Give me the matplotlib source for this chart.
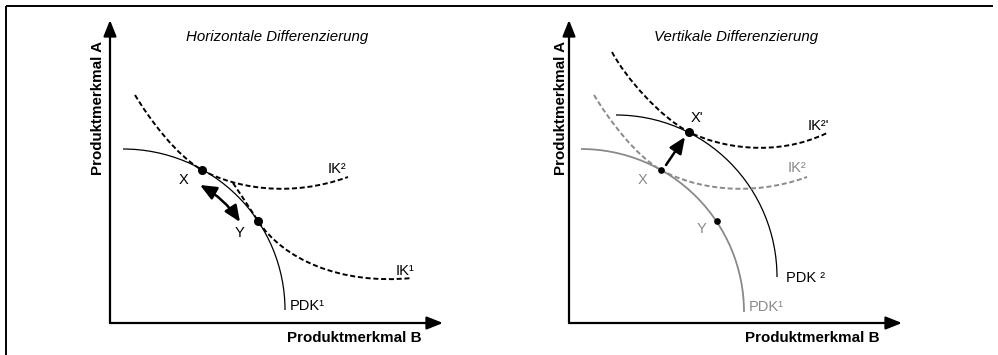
import matplotlib.pyplot as plt
from matplotlib.path import Path
from matplotlib.patches import PathPatch, Arc, FancyArrowPatch

plt.rcParams['font.family'] = ['Liberation Sans', 'DejaVu Sans']

GRAY = '#8a8a8a'

# everything in picture pixels, y grows downward

# left panel: horizontale Differenzierung
left_origin = (110, 323)
left_tips = (443, 20)
left_pdk1 = (123, 310, 162, 161)          # centre x, centre y, radius x, radius y
left_ik2 = [(135, 95), (150, 120), (177, 156), (202, 170),
            (235, 188), (290, 198), (348, 177)]
left_ik1 = [(233, 183), (240, 193), (250, 209), (258, 221),
            (283, 259), (340, 285), (412, 278)]
left_dots = [(202, 170), (258, 221)]
left_move = [(200, 185), (240, 222)]

# right panel: vertikale Differenzierung
right_origin = (569, 323)
right_tips = (902, 20)
right_pdk1 = (581, 312, 163, 163)
right_pdk2 = (616, 277, 161, 162)
right_ik2 = [(594, 95), (609, 120), (636, 156), (661, 170),
             (694, 188), (749, 198), (807, 177)]
right_ik2b = [(612, 52), (625, 77), (661, 118), (689, 132),
              (719, 147), (775, 158), (827, 133)]
right_dots = [(661, 170), (717, 221)]
right_dot_new = (689, 132)
right_move = [(666, 165), (685, 137)]

fig = plt.figure(figsize=(9.98, 3.55), dpi=100)
ax = fig.add_axes([0, 0, 1, 1])
ax.set_xlim(0, 998)
ax.set_ylim(355, 0)
ax.axis('off')

# frame of the picture (top and left only)
ax.plot([6, 993], [5.5, 5.5], color='black', lw=1.4, solid_capstyle='butt')
ax.plot([6, 6], [5.5, 355], color='black', lw=1.4, solid_capstyle='butt')


def bezier(pts, color, lw=1.4, dashed=True):
    codes = [Path.MOVETO] + [Path.CURVE4] * (len(pts) - 1)
    ls = (0, (2.6, 1.4)) if dashed else '-'
    ax.add_patch(PathPatch(Path(pts, codes), facecolor='none', edgecolor=color,
                           lw=lw, linestyle=ls))


def quarter(c, color, lw=0.9):
    cx, cy, rx, ry = c
    ax.add_patch(Arc((cx, cy), 2 * rx, 2 * ry, theta1=270, theta2=360,
                     color=color, lw=lw))


def axes_arrows(origin, tips):
    ox, oy = origin
    tx, ty = tips
    for end in [(tx, oy), (ox, ty)]:
        ax.add_patch(FancyArrowPatch((ox, oy), end,
                                     arrowstyle='-|>,head_length=0.75,head_width=0.3',
                                     mutation_scale=13, color='black', lw=1.6,
                                     shrinkA=0, shrinkB=0))


axes_arrows(left_origin, left_tips)
axes_arrows(right_origin, right_tips)

# left panel curves
quarter(left_pdk1, 'black')
bezier(left_ik2, 'black')
bezier(left_ik1, 'black')
for x, y in left_dots:
    ax.plot(x, y, 'o', color='black', ms=5.5)
ax.add_patch(FancyArrowPatch(left_move[0], left_move[1],
                             arrowstyle='<|-|>,head_length=0.7,head_width=0.3',
                             mutation_scale=14, color='black', lw=1.8,
                             connectionstyle='arc3,rad=-0.12', shrinkA=0, shrinkB=0))

# right panel curves
quarter(right_pdk1, GRAY, lw=1.3)
quarter(right_pdk2, 'black')
bezier(right_ik2, GRAY)
bezier(right_ik2b, 'black')
for x, y in right_dots:
    ax.plot(x, y, 'o', color='black', ms=3.8)
ax.plot(*right_dot_new, 'o', color='black', ms=5.5)
ax.add_patch(FancyArrowPatch(right_move[0], right_move[1],
                             arrowstyle='-|>,head_length=0.7,head_width=0.3',
                             mutation_scale=14, color='black', lw=1.8,
                             shrinkA=0, shrinkB=0))

# texts
fs = 10.5
ax.text(277, 37, 'Horizontale Differenzierung', ha='center', va='center',
        style='italic', fontsize=10.8)
ax.text(736, 37, 'Vertikale Differenzierung', ha='center', va='center',
        style='italic', fontsize=10.8)
for x in (354, 812):
    ax.text(x, 338, 'Produktmerkmal B', ha='center', va='center',
            fontweight='bold', fontsize=10.9)
for x in (98, 561):
    ax.text(x, 108, 'Produktmerkmal A', ha='center', va='center',
            rotation=90, fontweight='bold', fontsize=10.9)

ax.text(184, 180, 'X', ha='center', va='center', fontsize=fs)
ax.text(240, 233, 'Y', ha='center', va='center', fontsize=fs)
ax.text(337, 169, 'IK²', ha='center', va='center', fontsize=fs)
ax.text(405, 271, 'IK¹', ha='center', va='center', fontsize=fs)
ax.text(307, 306, 'PDK¹', ha='center', va='center', fontsize=fs)

ax.text(697, 118, "X'", ha='center', va='center', fontsize=fs)
ax.text(818, 126, "IK²'", ha='center', va='center', fontsize=fs)
ax.text(797, 168, 'IK²', ha='center', va='center', fontsize=fs, color=GRAY)
ax.text(643, 180, 'X', ha='center', va='center', fontsize=fs, color=GRAY)
ax.text(702, 229, 'Y', ha='center', va='center', fontsize=fs, color=GRAY)
ax.text(806, 278, 'PDK ²', ha='center', va='center', fontsize=fs)
ax.text(766, 307, 'PDK¹', ha='center', va='center', fontsize=fs, color=GRAY)

fig.savefig('out.png', dpi=100)
